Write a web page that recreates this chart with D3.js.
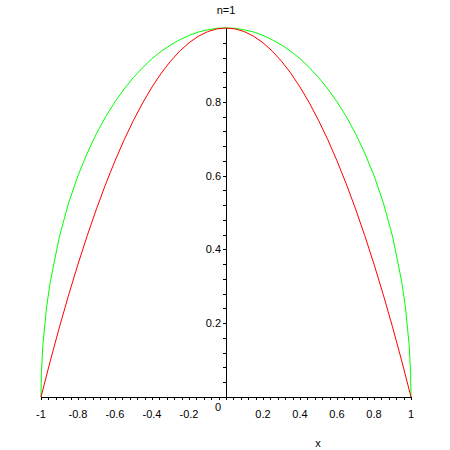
<!DOCTYPE html>
<html><head><meta charset="utf-8">
<script src="https://cdn.jsdelivr.net/npm/d3@7"></script>
<style>body{margin:0;background:#fff}svg{display:block}text{font-family:"Liberation Sans",Arial,sans-serif;font-size:11px;fill:#000}</style>
</head><body>
<script>
const title = "n=1";
const xLabel = "x";
const redX = [-1,-0.95,-0.9,-0.85,-0.8,-0.75,-0.7,-0.65,-0.6,-0.55,-0.5,-0.45,-0.4,-0.35,-0.3,-0.25,-0.2,-0.15,-0.1,-0.05,0,0.05,0.1,0.15,0.2,0.25,0.3,0.35,0.4,0.45,0.5,0.55,0.6,0.65,0.7,0.75,0.8,0.85,0.9,0.95,1];
const redY = [0,0.0975,0.19,0.2775,0.36,0.4375,0.51,0.5775,0.64,0.6975,0.75,0.7975,0.84,0.8775,0.91,0.9375,0.96,0.9775,0.99,0.9975,1,0.9975,0.99,0.9775,0.96,0.9375,0.91,0.8775,0.84,0.7975,0.75,0.6975,0.64,0.5775,0.51,0.4375,0.36,0.2775,0.19,0.0975,0];
const greenX = [-1,-0.998,-0.99,-0.97,-0.95,-0.9,-0.85,-0.8,-0.75,-0.7,-0.65,-0.6,-0.55,-0.5,-0.45,-0.4,-0.35,-0.3,-0.25,-0.2,-0.15,-0.1,-0.05,0,0.05,0.1,0.15,0.2,0.25,0.3,0.35,0.4,0.45,0.5,0.55,0.6,0.65,0.7,0.75,0.8,0.85,0.9,0.95,0.97,0.99,0.998,1];
const greenY = [0,0.063,0.141,0.243,0.312,0.436,0.527,0.6,0.661,0.714,0.760,0.8,0.835,0.866,0.893,0.917,0.937,0.954,0.968,0.980,0.989,0.995,0.999,1,0.999,0.995,0.989,0.980,0.968,0.954,0.937,0.917,0.893,0.866,0.835,0.8,0.760,0.714,0.661,0.6,0.527,0.436,0.312,0.243,0.141,0.063,0];
const xTickLabels = ["-1","-0.8","-0.6","-0.4","-0.2","0.2","0.4","0.6","0.8","1"];
const xTickLabelValues = [-1,-0.8,-0.6,-0.4,-0.2,0.2,0.4,0.6,0.8,1];
const yTickLabels = ["0.2","0.4","0.6","0.8"];
const yTickLabelValues = [0.2,0.4,0.6,0.8];

const W = 450, H = 450;
const svg = d3.select("body").append("svg").attr("width", W).attr("height", H);
const x = d3.scaleLinear().domain([-1, 1]).range([41, 411]);
const y = d3.scaleLinear().domain([0, 1]).range([397, 28]);

const xMinor = d3.range(0, 51).map(i => -1 + i * 0.04);
const yMinor = d3.range(1, 25).map(i => i * 0.04);

// x axis
const gx = svg.append("g").attr("transform", `translate(0,${y(0)})`);
gx.call(d3.axisBottom(x).tickValues(xMinor).tickSize(3).tickFormat(""));
gx.select(".domain").attr("d", `M${x(-1)},0H${x(1)}`);
gx.selectAll("line,path").attr("stroke", "#000").attr("stroke-width", 1);
gx.selectAll(".tick line").attr("shape-rendering", "crispEdges");
gx.selectAll(".domain").attr("shape-rendering", "crispEdges");
// y axis
const gy = svg.append("g").attr("transform", `translate(${x(0)},0)`);
gy.call(d3.axisLeft(y).tickValues(yMinor).tickSize(3).tickFormat(""));
gy.select(".domain").attr("d", `M0,${y(0)}V${y(1)}`);
gy.selectAll("line,path").attr("stroke", "#000").attr("stroke-width", 1).attr("shape-rendering", "crispEdges");

// labels
svg.append("g").selectAll("text").data(xTickLabelValues).join("text")
  .attr("x", d => x(d)).attr("y", y(0) + 21).attr("text-anchor", "middle")
  .text((d, i) => xTickLabels[i]);
svg.append("g").selectAll("text").data(yTickLabelValues).join("text")
  .attr("x", x(0) - 5).attr("y", d => y(d) + 4).attr("text-anchor", "end")
  .text((d, i) => yTickLabels[i]);
svg.append("text").attr("x", x(0) - 8).attr("y", y(0) + 14).attr("text-anchor", "middle").text("0");
svg.append("text").attr("x", x(0)).attr("y", 14).attr("text-anchor", "middle").text(title);
svg.append("text").attr("x", 318).attr("y", 447).attr("text-anchor", "middle").text(xLabel);

const line = d3.line().x(d => x(d[0])).y(d => y(d[1]));
svg.append("path").datum(greenX.map((v, i) => [v, greenY[i]]))
  .attr("d", line).attr("fill", "none").attr("stroke", "#00ff00").attr("stroke-width", 1);
svg.append("path").datum(redX.map((v, i) => [v, redY[i]]))
  .attr("d", line).attr("fill", "none").attr("stroke", "#ff0000").attr("stroke-width", 1);
</script>
</body></html>
